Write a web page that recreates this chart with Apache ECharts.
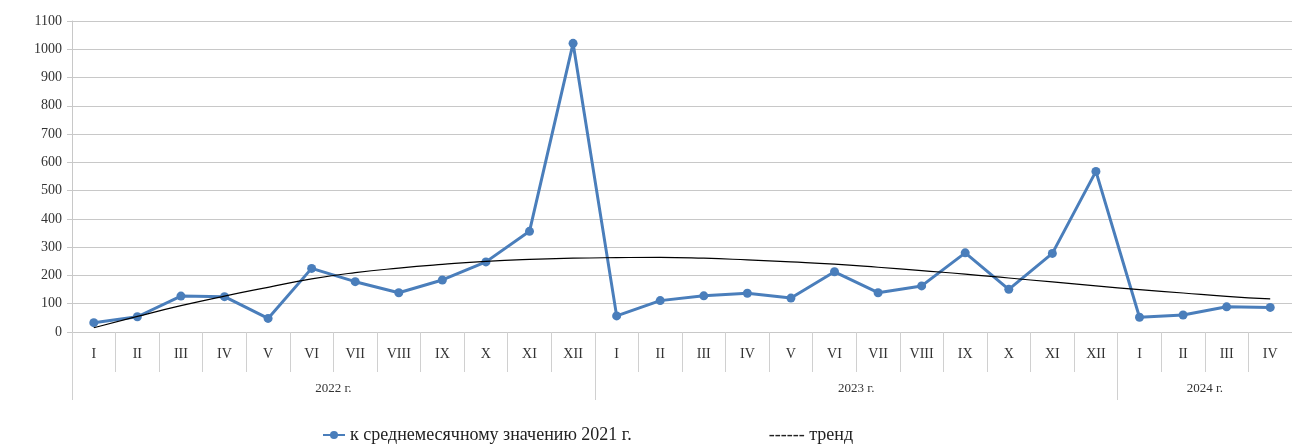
<!DOCTYPE html>
<html>
<head>
<meta charset="utf-8">
<script src="https://cdn.jsdelivr.net/npm/echarts@6/dist/echarts.min.js"></script>
<style>html,body{margin:0;padding:0;background:#fff;}#c{width:1292px;height:446px;}</style>
</head>
<body>
<div id="c"></div>
<script>
const months = ['I','II','III','IV','V','VI','VII','VIII','IX','X','XI','XII',
                'I','II','III','IV','V','VI','VII','VIII','IX','X','XI','XII',
                'I','II','III','IV'];
const years = ['2022 г.','2023 г.','2024 г.'];
const yearCenters = [6, 18, 26];
const yearBounds = [0, 12, 24, 28];
const seriesName = 'к среднемесячному значению 2021 г.';
const trendName = 'тренд';
const values = [33, 54, 127, 125, 48, 225, 178, 139, 184, 248, 356, 1021,
                57, 111, 128, 137, 120, 213, 139, 163, 280, 151, 278, 568,
                52, 60, 89, 87];
const trend = [15, 55, 93, 127, 158, 188, 210, 226, 239, 250, 257, 261,
               263, 264, 261, 255, 248, 240, 229, 217, 205, 191, 177, 163,
               150, 138, 126, 117];

const FONT = '"Liberation Serif", "Times New Roman", serif';
const chart = echarts.init(document.getElementById('c'));
chart.setOption({
  animation: false,
  textStyle: { fontFamily: FONT },
  grid: { left: 72, top: 21, width: 1224, height: 311, containLabel: false },
  legend: {
    left: 317, top: 421, itemGap: 110,
    textStyle: { fontFamily: FONT, fontSize: 18, color: '#222' },
    itemWidth: 22, itemHeight: 10,
    data: [
      { name: seriesName },
      { name: trendName, icon: 'none' }
    ],
    formatter: function (n) { return n === trendName ? '------ тренд' : n; }
  },
  xAxis: [
    {
      type: 'category', data: months, boundaryGap: true, position: 'bottom',
      axisLine: { show: true, lineStyle: { color: '#c8c8c8' } },
      axisTick: { show: true, interval: 0, length: 40, lineStyle: { color: '#d0d0d0' } },
      axisLabel: { interval: 0, margin: 15, fontFamily: FONT, fontSize: 14, color: '#333' },
      splitLine: { show: false }
    },
    {
      type: 'value', min: 0, max: 28, position: 'bottom', offset: 40,
      axisLine: { show: false },
      axisTick: { show: true, customValues: yearBounds, length: 28, lineStyle: { color: '#d0d0d0' } },
      axisLabel: {
        customValues: yearCenters, margin: 10, fontFamily: FONT, fontSize: 13, color: '#333',
        formatter: function (v) { const i = yearCenters.indexOf(v); return i >= 0 ? years[i] : ''; }
      },
      splitLine: { show: false }
    }
  ],
  yAxis: {
    type: 'value', min: 0, max: 1100, interval: 100,
    axisLine: { show: true, lineStyle: { color: '#c8c8c8' } },
    axisTick: { show: true, length: 5, lineStyle: { color: '#c8c8c8' } },
    axisLabel: { fontFamily: FONT, fontSize: 14, color: '#333', margin: 10,
                 formatter: function (v) { return String(v); } },
    splitLine: { show: true, lineStyle: { color: '#c8c8c8', width: 1 } }
  },
  series: [
    {
      name: seriesName, type: 'line', xAxisIndex: 0, data: values,
      symbol: 'circle', symbolSize: 9,
      lineStyle: { color: '#4a7ebb', width: 3 },
      itemStyle: { color: '#4a7ebb' }, z: 3
    },
    {
      name: trendName, type: 'line', xAxisIndex: 0, data: trend,
      smooth: true, symbol: 'none',
      lineStyle: { color: '#000', width: 1.2 },
      itemStyle: { color: '#000' }, z: 4
    }
  ]
});
</script>
</body>
</html>
